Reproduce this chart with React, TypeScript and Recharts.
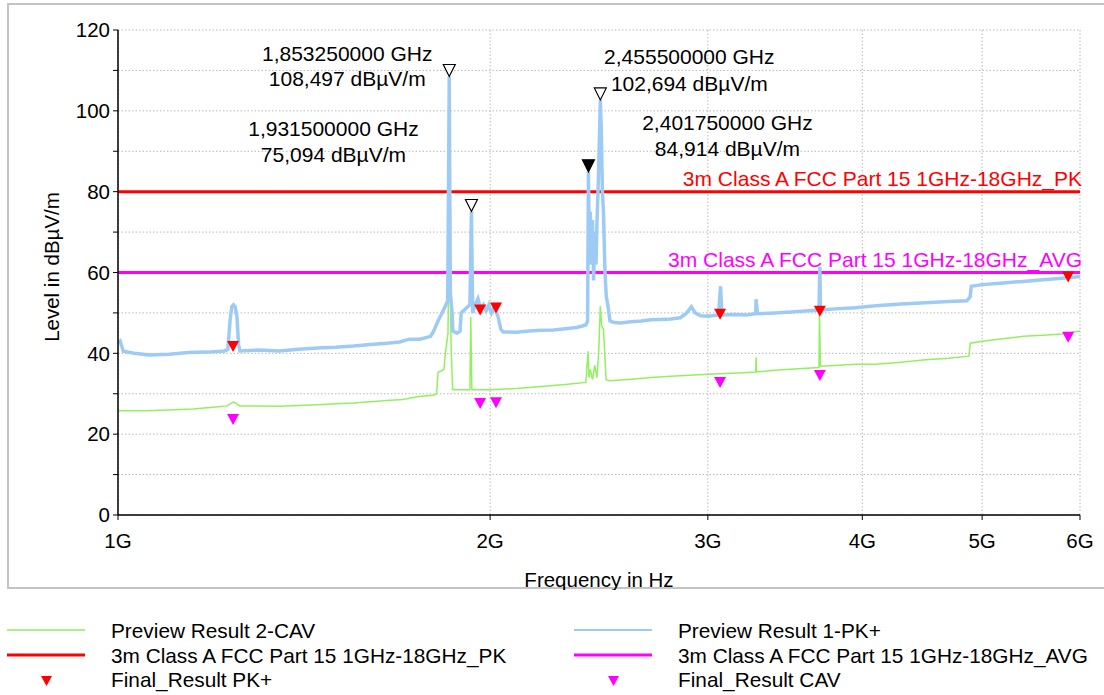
import {
  ComposedChart,
  Line,
  Scatter,
  XAxis,
  YAxis,
  CartesianGrid,
  ReferenceLine,
} from "recharts";

const FONT = '"Liberation Sans", Arial, sans-serif';

// frequency in GHz, level in dBµV/m
const previewPk: [number, number][] = [
  [1.0, 42.5], [1.004, 43], [1.01, 40.5], [1.03, 40], [1.06, 39.6], [1.1, 39.8],
  [1.14, 40.2], [1.18, 40.3], [1.22, 40.6], [1.227, 41], [1.232, 48], [1.236, 51.5],
  [1.24, 52], [1.244, 51.5], [1.248, 49], [1.252, 42], [1.255, 40.6], [1.3, 40.8],
  [1.35, 40.6], [1.4, 41], [1.45, 41.3], [1.5, 41.5], [1.55, 41.8], [1.6, 42.2],
  [1.65, 42.5], [1.69, 42.8], [1.72, 43.5], [1.755, 43.5], [1.79, 44.2], [1.8, 45.5],
  [1.815, 48], [1.825, 49.5], [1.84, 51.7], [1.848, 53], [1.85325, 108.5], [1.857, 55],
  [1.863, 50], [1.866, 45.5], [1.88, 45], [1.891, 45.5], [1.895, 50], [1.91, 51],
  [1.926, 52], [1.9315, 75.1], [1.936, 50], [1.945, 52], [1.955, 53.5], [1.965, 51],
  [1.975, 52], [1.985, 50.5], [1.995, 52], [2.005, 50], [2.015, 51.5], [2.03, 49],
  [2.04, 46], [2.05, 45.3], [2.1, 45.2], [2.15, 45.5], [2.2, 45.7], [2.25, 45.8],
  [2.3, 46.1], [2.35, 46.4], [2.39, 47], [2.398, 48], [2.40175, 84.9], [2.405, 68],
  [2.41, 75], [2.415, 62], [2.42, 73], [2.425, 58], [2.43, 70], [2.436, 62],
  [2.44, 72], [2.445, 80], [2.45, 90], [2.4555, 102.7], [2.46, 95], [2.465, 80],
  [2.47, 75], [2.477, 60], [2.483, 54], [2.49, 52], [2.5, 48], [2.52, 47.6],
  [2.55, 47.5], [2.6, 47.8], [2.65, 48], [2.7, 48.3], [2.75, 48.4], [2.8, 48.5],
  [2.85, 48.8], [2.88, 49.8], [2.91, 51.5], [2.93, 50], [2.96, 49.3], [3.0, 49.2],
  [3.06, 49.5], [3.072, 56.6], [3.08, 49.5], [3.15, 49.6], [3.22, 49.5], [3.28, 49.8],
  [3.282, 53.4], [3.29, 49.8], [3.4, 50], [3.5, 50.2], [3.6, 50.5], [3.69, 50.7],
  [3.696, 61.4], [3.7, 50.7], [3.8, 51], [3.95, 51.3], [4.1, 51.8], [4.3, 52.2],
  [4.5, 52.5], [4.7, 52.8], [4.86, 53], [4.89, 54], [4.9, 56.6], [5.0, 57],
  [5.2, 57.4], [5.4, 57.8], [5.6, 58.2], [5.8, 58.6], [6.0, 59],
];

const previewCav: [number, number][] = [
  [1.0, 25.8], [1.05, 25.8], [1.1, 26], [1.15, 26.2], [1.2, 26.7], [1.225, 27],
  [1.24, 28], [1.255, 27], [1.3, 27], [1.35, 26.9], [1.4, 27.1], [1.45, 27.3],
  [1.5, 27.5], [1.55, 27.7], [1.6, 28], [1.65, 28.3], [1.7, 28.6], [1.75, 29.3],
  [1.8, 29.6], [1.81, 30], [1.815, 35.3], [1.835, 36], [1.84, 40], [1.849, 45],
  [1.85325, 71.6], [1.857, 55], [1.86, 41], [1.865, 31], [1.926, 31], [1.929, 49],
  [1.933, 31], [2.0, 31], [2.1, 31.3], [2.2, 31.8], [2.3, 32.3], [2.39, 32.8],
  [2.4, 40.5], [2.404, 34], [2.41, 36], [2.42, 33.5], [2.43, 37], [2.44, 34],
  [2.448, 40], [2.4555, 51.7], [2.462, 46.7], [2.47, 46], [2.482, 33.5], [2.5, 33.2],
  [2.6, 33.6], [2.7, 34], [2.8, 34.3], [2.9, 34.6], [3.0, 34.8], [3.1, 35],
  [3.2, 35.2], [3.28, 35.4], [3.282, 39], [3.285, 35.4], [3.4, 35.8], [3.55, 36.2],
  [3.69, 36.5], [3.693, 50], [3.7, 36.8], [3.8, 37], [3.95, 37.3], [4.1, 37.3],
  [4.3, 37.8], [4.5, 38.4], [4.7, 38.8], [4.88, 39.3], [4.89, 42.5], [5.0, 43],
  [5.2, 43.6], [5.4, 44.2], [5.6, 44.5], [5.8, 44.8], [6.0, 45.5],
];

const finalPk: [number, number][] = [
  [1.239, 41.7], [1.963, 50.7], [2.022, 51.2], [3.069, 49.7], [3.696, 50.4], [5.869, 58.9],
];
const finalCav: [number, number][] = [
  [1.239, 23.6], [1.963, 27.6], [2.022, 27.8], [3.069, 32.8], [3.696, 34.5], [5.869, 44.0],
];

// marker peaks: freq GHz, level, filled?
const peakMarkers: [number, number, boolean][] = [
  [1.85325, 108.497, false],
  [1.9315, 75.094, false],
  [2.4555, 102.694, false],
  [2.40175, 84.914, true],
];

const limitPk = 80;
const limitAvg = 60;
const limitPkName = "3m Class A FCC Part 15 1GHz-18GHz_PK";
const limitAvgName = "3m Class A FCC Part 15 1GHz-18GHz_AVG";

const xTicks = [1, 2, 3, 4, 5, 6];
const yTicks = [0, 10, 20, 30, 40, 50, 60, 70, 80, 90, 100, 110, 120];

// text placement of marker labels (relative to the marker tip)
const peakLabelPos = [
  { dx: -102, dy1: -15, dy2: 10 },
  { dx: -138, dy1: -75, dy2: -49 },
  { dx: 89, dy1: -36, dy2: -9 },
  { dx: 139, dy1: -42, dy2: -16 },
];

const toRows = (pts: [number, number][]) => pts.map(([freq, level]) => ({ freq, level }));

const pkData = toRows(previewPk);
const cavData = toRows(previewCav);
const finalPkData = toRows(finalPk);
const finalCavData = toRows(finalCav);
const peakData = peakMarkers.map(([freq, level, filled], i) => ({ freq, level, filled, i }));

const fmt = (v: number, d: number) => v.toFixed(d).replace(".", ",");

const downTriangle = (color: string) => (props: any) => {
  const { cx, cy } = props;
  if (cx == null || cy == null) return <g />;
  return (
    <polygon
      points={`${cx - 6},${cy - 5.5} ${cx + 6},${cy - 5.5} ${cx},${cy + 5.5}`}
      fill={color}
    />
  );
};

const PeakMarker = (props: any) => {
  const { cx, cy, payload } = props;
  if (cx == null || cy == null) return <g />;
  const pos = peakLabelPos[payload.i];
  return (
    <g>
      <polygon
        points={`${cx - 6},${cy - 12} ${cx + 6},${cy - 12} ${cx},${cy}`}
        fill={payload.filled ? "#000" : "#fff"}
        stroke="#000"
        strokeWidth={1.2}
      />
      <text x={cx + pos.dx} y={cy + pos.dy1} textAnchor="middle" fontSize={21} fill="#000" fontFamily={FONT}>
        {`${fmt(payload.freq, 9)} GHz`}
      </text>
      <text x={cx + pos.dx} y={cy + pos.dy2} textAnchor="middle" fontSize={21} fill="#000" fontFamily={FONT}>
        {`${fmt(payload.level, 3)} dBµV/m`}
      </text>
    </g>
  );
};

const limitLabel = (text: string, color: string) => (props: any) => {
  const vb = props.viewBox;
  return (
    <text x={vb.x + vb.width + 2} y={vb.y - 6} textAnchor="end" fontSize={21} fill={color} fontFamily={FONT}>
      {text}
    </text>
  );
};

const legendItems = [
  { name: "Preview Result 2-CAV", color: "#90ee60", kind: "line", width: 1.5, col: 0, row: 0 },
  { name: "Preview Result 1-PK+", color: "#9ecbf5", kind: "line", width: 2, col: 1, row: 0 },
  { name: limitPkName, color: "#ff0000", kind: "line", width: 3, col: 0, row: 1 },
  { name: limitAvgName, color: "#ff00ff", kind: "line", width: 3, col: 1, row: 1 },
  { name: "Final_Result PK+", color: "#ff0000", kind: "tri", width: 0, col: 0, row: 2 },
  { name: "Final_Result CAV", color: "#ff00ff", kind: "tri", width: 0, col: 1, row: 2 },
];

const ChartLegend = () => (
  <>
    {legendItems.map((it) => {
      const left = it.col === 0 ? 7 : 574;
      const top = 619 + it.row * 24.5;
      return (
        <div
          key={it.name}
          style={{ position: "absolute", left, top, height: 24, display: "flex", alignItems: "center" }}
        >
          <svg width={104} height={24} style={{ display: "block" }}>
            {it.kind === "line" ? (
              <line x1={0} x2={78} y1={11} y2={11} stroke={it.color} strokeWidth={it.width} />
            ) : (
              <polygon points="34,8 45,8 39.5,18" fill={it.color} />
            )}
          </svg>
          <span style={{ fontSize: 20.8, color: "#000", whiteSpace: "nowrap" }}>{it.name}</span>
        </div>
      );
    })}
  </>
);

export default function App() {
  return (
    <div
      style={{
        position: "absolute",
        left: 0,
        top: 0,
        width: 1104,
        height: 695,
        overflow: "hidden",
        background: "#fff",
        fontFamily: FONT,
      }}
    >
      <div
        style={{
          position: "absolute",
          left: 7,
          top: 3,
          width: 1110,
          height: 586,
          border: "2px solid #c4c4c4",
          boxSizing: "border-box",
        }}
      />
      <div style={{ position: "absolute", left: 0, top: 0 }}>
        <ComposedChart width={1104} height={590} margin={{ top: 30, right: 24, left: 0, bottom: 0 }}>
          <CartesianGrid stroke="#b8b8b8" strokeDasharray="1.5 2" strokeWidth={1} />
          <XAxis
            dataKey="freq"
            type="number"
            scale="log"
            domain={[1, 6]}
            ticks={xTicks}
            allowDataOverflow
            tickFormatter={(v: number) => `${v}G`}
            height={75}
            tickSize={5}
            tickMargin={13}
            axisLine={{ stroke: "#000", strokeWidth: 1.5 }}
            tickLine={{ stroke: "#000" }}
            tick={{ fontSize: 20.5, fill: "#000", fontFamily: FONT }}
            label={(p: any) => (
              <text x={599} y={587} textAnchor="middle" fontSize={20.5} fill="#000" fontFamily={FONT}>
                Frequency in Hz
              </text>
            )}
          />
          <YAxis
            dataKey="level"
            type="number"
            domain={[0, 120]}
            ticks={yTicks}
            allowDataOverflow
            interval={0}
            width={118}
            tickSize={5}
            tickMargin={3}
            tickFormatter={(v: number) => (v % 20 === 0 ? `${v}` : "")}
            axisLine={{ stroke: "#000", strokeWidth: 1.5 }}
            tickLine={{ stroke: "#000" }}
            tick={{ fontSize: 20.5, fill: "#000", fontFamily: FONT }}
            label={(p: any) => (
              <text
                x={51}
                y={267}
                transform="rotate(-90 51 267)"
                textAnchor="middle"
                dominantBaseline="central"
                fontSize={20.5}
                fill="#000"
                fontFamily={FONT}
              >
                Level in dBµV/m
              </text>
            )}
          />
          <ReferenceLine y={limitPk} stroke="#ff0000" strokeWidth={3} label={limitLabel(limitPkName, "#ff0000")} />
          <ReferenceLine y={limitAvg} stroke="#ff00ff" strokeWidth={3} label={limitLabel(limitAvgName, "#ff00ff")} />
          <Line
            data={cavData}
            dataKey="level"
            type="linear"
            stroke="#92f060"
            strokeWidth={1.5}
            dot={false}
            isAnimationActive={false}
          />
          <Line
            data={pkData}
            dataKey="level"
            type="linear"
            stroke="#9ecbf5"
            strokeWidth={3.5}
            dot={false}
            isAnimationActive={false}
          />
          <Scatter data={finalPkData} dataKey="level" shape={downTriangle("#ff0000")} isAnimationActive={false} />
          <Scatter data={finalCavData} dataKey="level" shape={downTriangle("#ff00ff")} isAnimationActive={false} />
          <Scatter data={peakData} dataKey="level" shape={PeakMarker} isAnimationActive={false} />
        </ComposedChart>
      </div>
      <ChartLegend />
    </div>
  );
}
